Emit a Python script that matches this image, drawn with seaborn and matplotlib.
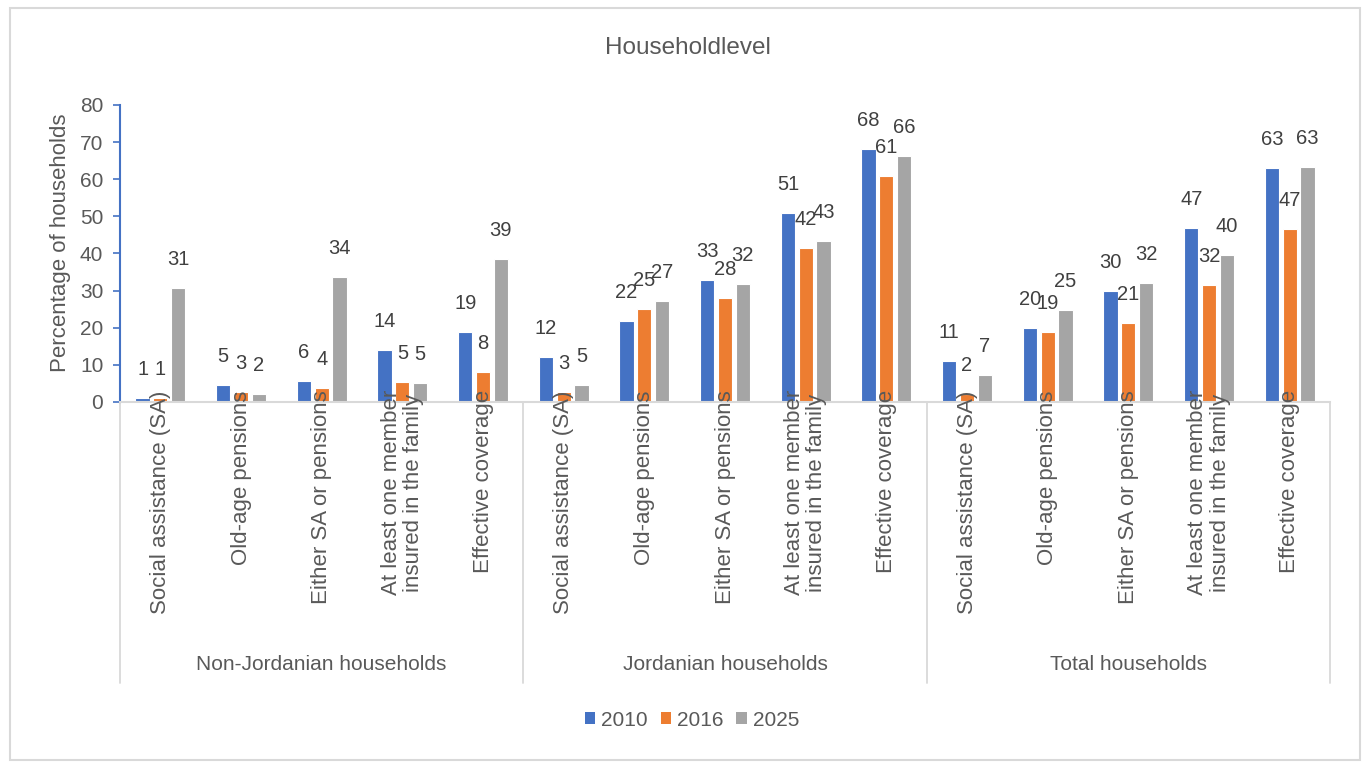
import matplotlib
matplotlib.use("Agg")
import matplotlib.pyplot as plt
import matplotlib.transforms as mtransforms
from matplotlib import font_manager
from matplotlib.patches import Rectangle, Patch
from matplotlib.lines import Line2D
import seaborn as sns
import pandas as pd

# ---------------- data ----------------
groups = ["Non-Jordanian households", "Jordanian households", "Total households"]
indicators = ["Social assistance (SA)", "Old-age pensions", "Either SA or pensions",
              "At least one member\ninsured in the family", "Effective coverage"]
years = ["2010", "2016", "2025"]

values_2010 = [1.1, 4.6, 5.7, 13.9, 18.9,
               12.2, 21.8, 32.9, 50.9, 68.1,
               11.0, 19.9, 29.9, 47.0, 63.1]
values_2016 = [1.0, 2.6, 3.7, 5.3, 8.0,
               2.8, 25.1, 28.0, 41.6, 60.9,
               2.2, 18.9, 21.3, 31.6, 46.6]
values_2025 = [30.6, 2.2, 33.6, 5.1, 38.6,
               4.6, 27.3, 31.9, 43.3, 66.2,
               7.2, 24.7, 32.0, 39.6, 63.3]
series = [values_2010, values_2016, values_2025]
colors = ["#4472C4", "#ED7D31", "#A5A5A5"]

# ---------------- fonts ----------------
sns.set_theme(style="white")
names = {f.name for f in font_manager.fontManager.ttflist}
base = "Liberation Sans" if "Liberation Sans" in names else "DejaVu Sans"
plt.rcParams["font.family"] = [base, "DejaVu Sans"]

txt = "#595959"
lbl = "#404040"

# ---------------- table ----------------
slots = [f"{g}|{ind}" for g in groups for ind in indicators]
rows = []
for yr, vals in zip(years, series):
    for s, v in zip(slots, vals):
        rows.append({"slot": s, "year": yr, "value": v})
df = pd.DataFrame(rows)

W, H = 1368, 762
fig = plt.figure(figsize=(W / 100, H / 100), dpi=100)
fig.patch.set_facecolor("white")
ax = fig.add_axes([120 / W, 1 - 402 / H, 1210 / W, 297 / H])

sns.barplot(data=df, x="slot", y="value", hue="year", order=slots, hue_order=years,
            palette=colors, saturation=1, width=0.66, gap=0.2,
            edgecolor="white", linewidth=0.8, ax=ax, legend=False, errorbar=None)

# data labels
for cont, vals in zip(ax.containers, series):
    for bar, v in zip(cont, vals):
        ax.annotate(f"{v:.0f}", (bar.get_x() + bar.get_width() / 2, bar.get_height()),
                    xytext=(0, 20.5), textcoords="offset points",
                    ha="center", va="center", fontsize=14.5, color=lbl, zorder=5)

ax.set_xlim(-0.5, len(slots) - 0.5)
ax.set_ylim(0, 80)
ax.set_yticks(range(0, 81, 10))
ax.set_xticks(range(len(slots)))
ax.set_xticklabels([ind for g in groups for ind in indicators], rotation=90,
                   fontsize=16, color=txt, linespacing=1.08)
ax.tick_params(axis="x", length=0, pad=-8.5)
ax.tick_params(axis="y", length=5, width=1.2, color="#4472C4", labelsize=15,
               labelcolor=txt, pad=7, direction="out", left=True)
ax.xaxis.set_zorder(3)
ax.set_xlabel("")
ax.set_ylabel("Percentage of households", fontsize=16, color=txt)
ax.yaxis.set_label_coords((71 - 120) / 1210, (402 - 242.5) / 297)

for sp in ["top", "right"]:
    ax.spines[sp].set_visible(False)
ax.spines["left"].set_color("#4472C4")
ax.spines["left"].set_linewidth(1.5)
ax.spines["bottom"].set_color("#D9D9D9")
ax.spines["bottom"].set_linewidth(1.5)

# group separators and labels
trans = mtransforms.blended_transform_factory(ax.transData, ax.transAxes)
for x in [-0.5, 4.5, 9.5, 14.5]:
    ax.add_line(Line2D([x, x], [0, -(683 - 402) / 297], transform=trans,
                       color="#D9D9D9", lw=1.3, clip_on=False))
for i, g in enumerate(groups):
    ax.text(2 + 5 * i, -(665 - 402) / 297, g, transform=trans, ha="center",
            va="center", fontsize=15, color=txt)

# title
fig.text(688 / W, 1 - 48 / H, "Householdlevel", ha="center", va="center",
         fontsize=17.5, color=txt)

# legend
handles = [Patch(facecolor=c, edgecolor="none") for c in colors]
leg = ax.legend(handles=handles, labels=years, loc="center",
                bbox_to_anchor=(692 / W, 1 - 720 / H), bbox_transform=fig.transFigure,
                ncol=3, frameon=False, prop={"size": 15},
                handlelength=0.5, handleheight=0.5, handletextpad=0.3,
                columnspacing=0.6)
for t in leg.get_texts():
    t.set_color(txt)

# outer border
fig.patches.append(Rectangle((10 / W, 2 / H), 1350 / W, 752 / H, transform=fig.transFigure,
                             fill=False, edgecolor="#D9D9D9", lw=1.5))

fig.savefig("out.png", dpi=100)
